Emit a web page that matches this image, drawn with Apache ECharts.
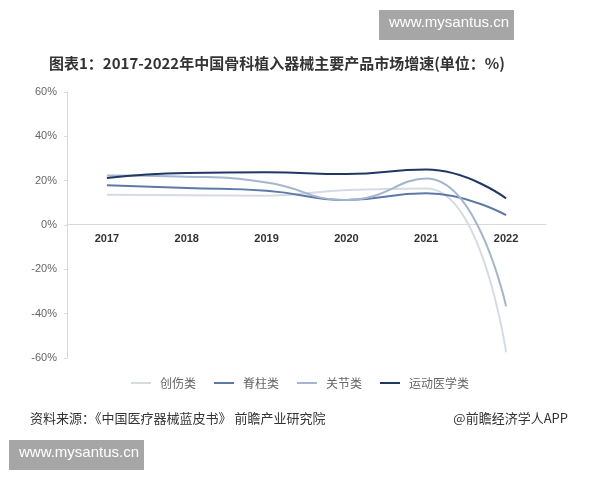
<!DOCTYPE html>
<html>
<head>
<meta charset="utf-8">
<script src="https://cdn.jsdelivr.net/npm/echarts@6/dist/echarts.min.js"></script>
<style>
  html, body { margin: 0; padding: 0; background: #fff; }
  #chart { width: 600px; height: 480px; }
</style>
</head>
<body>
<div id="chart"></div>
<script>
// 数据
const years = ['2017', '2018', '2019', '2020', '2021', '2022']
const chuangshang = [13.7, 13.4, 13.2, 15.8, 16.5, -57.4]
const jizhu = [17.9, 16.7, 15.5, 11.3, 14.3, 4.4]
const guanjie = [22.3, 21.8, 19.2, 11.3, 21, -36.7]
const yundong = [21.2, 23.5, 23.8, 23, 25, 12]
const names = ['创伤类', '脊柱类', '关节类', '运动医学类']
const colors = ['#d5dbe4', '#5d79a8', '#a3b5cf', '#1f3864']

const chart = echarts.init(document.getElementById('chart'))

function line(name, data, color) {
  return {
    name: name,
    type: 'line',
    data: data,
    smooth: true,
    symbol: 'none',
    lineStyle: { width: 2, color: color },
    itemStyle: { color: color }
  }
}

chart.setOption({
  animation: false,
  backgroundColor: '#fff',
  title: {
    text: '图表1：2017-2022年中国骨科植入器械主要产品市场增速(单位：%)',
    left: 44,
    top: 51,
    textStyle: { fontSize: 15, fontWeight: 'bold', color: '#333', fontFamily: 'Noto Sans CJK SC' }
  },
  legend: {
    bottom: 86,
    left: 'center',
    itemWidth: 28,
    itemGap: 18,
    icon: 'path://M0,0 L10,0 L10,1 L0,1 Z',
    itemHeight: 2,
    textStyle: { color: '#666', fontSize: 12, fontFamily: 'Noto Sans CJK SC' },
    data: names
  },
  grid: { left: 67, right: 54, top: 92, bottom: 122 },
  xAxis: {
    type: 'category',
    data: years,
    boundaryGap: true,
    // 横轴放在0%处，标签跟着一起
    offset: -134,
    axisLine: { onZero: false, lineStyle: { color: '#d9d9d9' } },
    axisTick: { show: false },
    axisLabel: { color: '#333', fontSize: 11, fontWeight: 'bold', margin: 9 }
  },
  yAxis: {
    type: 'value',
    min: -60,
    max: 60,
    interval: 20,
    axisLine: { show: true, lineStyle: { color: '#d9d9d9' } },
    axisTick: { show: true, length: 3, lineStyle: { color: '#d9d9d9' } },
    splitLine: { show: false },
    axisLabel: { color: '#666', fontSize: 11, formatter: '{value}%', margin: 10 }
  },
  series: [
    line(names[0], chuangshang, colors[0]),
    line(names[1], jizhu, colors[1]),
    line(names[2], guanjie, colors[2]),
    line(names[3], yundong, colors[3])
  ],
  graphic: [
    { type: 'text', left: 30, top: 412,
      style: { text: '资料来源：《中国医疗器械蓝皮书》 前瞻产业研究院', fill: '#333', fontSize: 13, fontFamily: 'Noto Sans CJK SC' } },
    { type: 'text', right: 32, top: 412,
      style: { text: '@前瞻经济学人APP', fill: '#333', fontSize: 13, fontFamily: 'Noto Sans CJK SC' } },
    { type: 'rect', left: 379, top: 10, shape: { width: 135, height: 30 }, style: { fill: '#a6a6a6' } },
    { type: 'text', left: 389, top: 15,
      style: { text: 'www.mysantus.cn', fill: '#fff', fontSize: 15, fontFamily: 'Liberation Sans' } },
    { type: 'rect', left: 9, top: 440, shape: { width: 135, height: 30 }, style: { fill: '#a6a6a6' } },
    { type: 'text', left: 19, top: 445,
      style: { text: 'www.mysantus.cn', fill: '#fff', fontSize: 15, fontFamily: 'Liberation Sans' } }
  ]
})
</script>
</body>
</html>
